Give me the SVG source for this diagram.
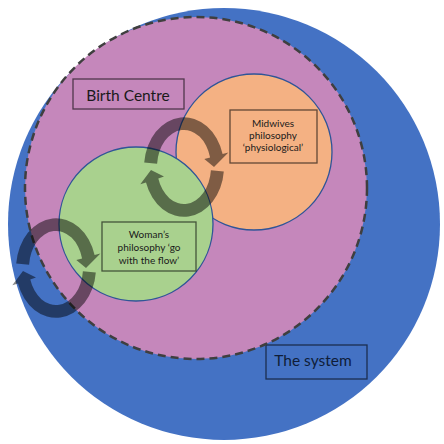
<svg xmlns="http://www.w3.org/2000/svg" width="444" height="444" viewBox="0 0 444 444">
<style>
.lbl{font-family:Lato,"Open Sans","Liberation Sans",sans-serif;fill:#1a1a1a;text-anchor:middle}
.big{font-size:15.5px}
.small{font-size:10px}
.box{fill:none;stroke:#000;stroke-opacity:0.6;stroke-width:1.3}
.arrow{fill:#000;fill-opacity:0.48}
.inner{stroke:#2F5597;stroke-width:1.3}
</style>
<defs>
<g id="cycle">
<path class="arrow" d="M -39.8,-4.4 A 40 50 0 0 1 38.6,-12.9 L 44.4,-14.5 L 30,0 L 20.3,-8 L 26.1,-9.6 A 27 37 0 0 0 -26.9,-3.2 Z"/>
<path class="arrow" d="M 39.8,4.4 A 40 50 0 0 1 -38,15.5 L -43.7,17.3 L -33,3 L -20,9.6 L -25.7,11.4 A 27 37 0 0 0 26.9,3.2 Z"/>
</g>
</defs>
<rect width="444" height="444" fill="#fff"/>
<g id="system">
<circle cx="224" cy="224" r="216" fill="#4472C4"/>
<rect class="box" x="266" y="345" width="101" height="34"/>
<text class="lbl big" x="313" y="366" style="fill:#0f1d38">The system</text>
</g>
<g id="birth-centre">
<circle cx="196" cy="188" r="171" fill="#C587BB" stroke="#3f3f3f" stroke-width="2.5" stroke-dasharray="8 5"/>
<rect class="box" x="73" y="79" width="111" height="30"/>
<text class="lbl big" x="128" y="101">Birth Centre</text>
</g>
<g id="midwives">
<circle class="inner" cx="254" cy="152" r="78" fill="#F4B183"/>
<rect class="box" x="230" y="110" width="87" height="53"/>
<text class="lbl small" x="273" y="127">Midwives</text>
<text class="lbl small" x="273" y="139">philosophy</text>
<text class="lbl small" x="273" y="151">‘physiological’</text>
</g>
<g id="woman">
<circle class="inner" cx="136" cy="224" r="77" fill="#A9D18E"/>
<rect class="box" x="102" y="222" width="94" height="49"/>
<text class="lbl small" x="149" y="238">Woman’s</text>
<text class="lbl small" x="149" y="251">philosophy ‘go</text>
<text class="lbl small" x="149" y="264">with the flow’</text>
</g>
<g id="connectors">
<use href="#cycle" transform="translate(184,167)"/>
<use href="#cycle" transform="translate(56,268)"/>
</g>
</svg>
